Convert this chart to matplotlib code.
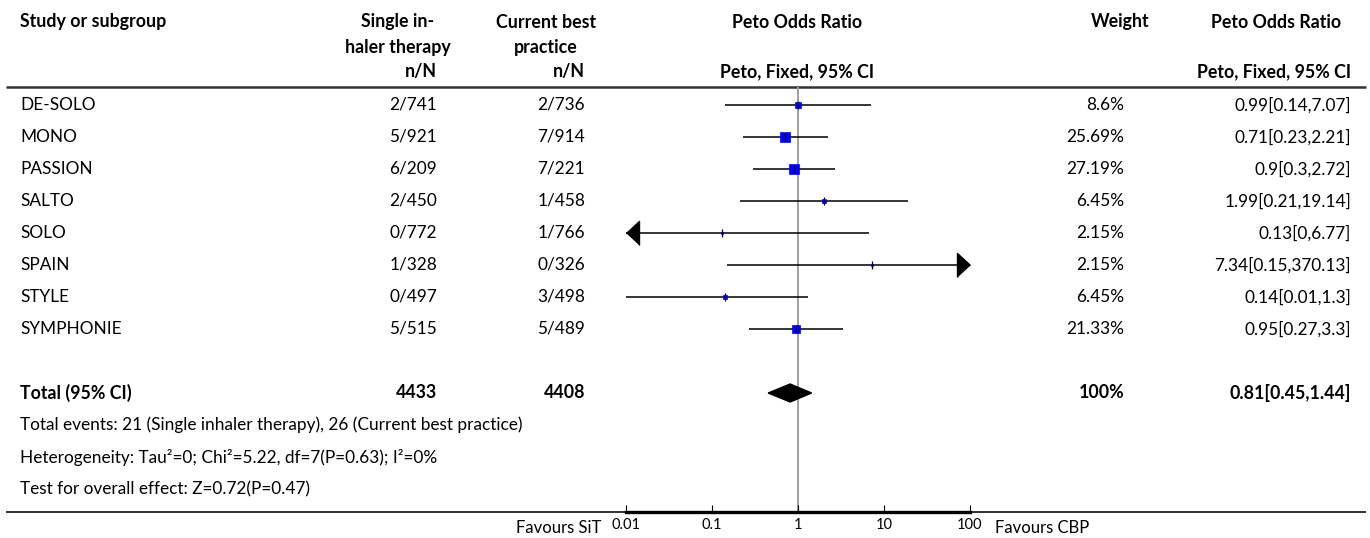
import numpy as np
import matplotlib.pyplot as plt
from matplotlib.patches import Polygon

plt.rcParams['font.family'] = ['Lato', 'DejaVu Sans']

# data
studies = ['DE-SOLO', 'MONO', 'PASSION', 'SALTO', 'SOLO', 'SPAIN', 'STYLE', 'SYMPHONIE']
sit_events = ['2/741', '5/921', '6/209', '2/450', '0/772', '1/328', '0/497', '5/515']
cbp_events = ['2/736', '7/914', '7/221', '1/458', '1/766', '0/326', '3/498', '5/489']
weights = [8.6, 25.69, 27.19, 6.45, 2.15, 2.15, 6.45, 21.33]
odds = [0.99, 0.71, 0.9, 1.99, 0.13, 7.34, 0.14, 0.95]
ci_low = [0.14, 0.23, 0.3, 0.21, 0, 0.15, 0.01, 0.27]
ci_high = [7.07, 2.21, 2.72, 19.14, 6.77, 370.13, 1.3, 3.3]
total_sit, total_cbp = 4433, 4408
total_or, total_low, total_high = 0.81, 0.45, 1.44
footnotes = [
    'Total events: 21 (Single inhaler therapy), 26 (Current best practice)',
    'Heterogeneity: Tau\u00b2=0; Chi\u00b2=5.22, df=7(P=0.63); I\u00b2=0%',
    'Test for overall effect: Z=0.72(P=0.47)',
]
ticks = [0.01, 0.1, 1, 10, 100]
tick_labels = ['0.01', '0.1', '1', '10', '100']

# layout (pixels)
W, H = 1370, 538
row0, dy = 105, 32
head_line, base_line = 87, 512
x_name, x_sit, x_cbp, x_w, x_ci = 20, 437, 585, 1124, 1351
fx0, fx1 = 626, 970

fig = plt.figure(figsize=(W / 100, H / 100), dpi=100)
bg = fig.add_axes([0, 0, 1, 1])
bg.set_xlim(0, W)
bg.set_ylim(H, 0)
bg.axis('off')

bold = dict(fontsize=12.8, fontweight='bold', va='center')
norm = dict(fontsize=12.4, va='center')

# header
bg.text(x_name, 22, 'Study or subgroup', ha='left', **bold)
bg.text(398, 22, 'Single in-', ha='center', **bold)
bg.text(398, 47, 'haler therapy', ha='center', **bold)
bg.text(x_sit, 72, 'n/N', ha='right', **bold)
bg.text(546, 22, 'Current best', ha='center', **bold)
bg.text(546, 47, 'practice', ha='center', **bold)
bg.text(x_cbp, 72, 'n/N', ha='right', **bold)
bg.text(797, 22, 'Peto Odds Ratio', ha='center', **bold)
bg.text(797, 72, 'Peto, Fixed, 95% CI', ha='center', **bold)
bg.text(1120, 22, 'Weight', ha='center', **bold)
bg.text(1276, 22, 'Peto Odds Ratio', ha='center', **bold)
bg.text(x_ci, 72, 'Peto, Fixed, 95% CI', ha='right', **bold)
bg.hlines(head_line, 6, 1366, color='#333333', lw=1.8)
bg.hlines(base_line, 6, 1366, color='#222222', lw=1.3)

# forest axes
ax = fig.add_axes([fx0 / W, (H - base_line) / H, (fx1 - fx0) / W, (base_line - head_line) / H])
ax.set_xscale('log')
ax.set_xlim(ticks[0], ticks[-1])
ax.set_ylim(base_line, head_line)
for s in ['top', 'left', 'right']:
    ax.spines[s].set_visible(False)
ax.spines['bottom'].set_linewidth(2.4)
ax.set_yticks([])
ax.set_xticks(ticks)
ax.set_xticklabels(tick_labels)
ax.minorticks_off()
ax.tick_params(axis='x', direction='in', length=5, width=0.8, labelsize=10.5, pad=4)
ax.patch.set_visible(False)
ax.axvline(1, color='#a0a0a0', lw=1.4, zorder=0)

for i, name in enumerate(studies):
    y = row0 + dy * i
    bg.text(x_name, y, name, ha='left', **norm)
    bg.text(x_sit, y, sit_events[i], ha='right', **norm)
    bg.text(x_cbp, y, cbp_events[i], ha='right', **norm)
    bg.text(x_w, y, f'{weights[i]:g}%', ha='right', **norm)
    bg.text(x_ci, y, f'{odds[i]:g}[{ci_low[i]:g},{ci_high[i]:g}]', ha='right', **norm)

    lo = max(ci_low[i], ticks[0])
    hi = min(ci_high[i], ticks[-1])
    ax.hlines(y, lo, hi, color='black', lw=1.1)
    side = 1.8 * np.sqrt(weights[i]) * 0.72
    ax.plot(odds[i], y, 's', ms=side, color='#0000ff', mec='#0000ff', mew=0.5)
    ax.plot(odds[i], y, '|', ms=6, color='black', mew=0.9)
    if ci_low[i] < ticks[0]:
        ax.plot(lo, y, marker=[(0, 0), (1.08, 1), (1.08, -1)], ms=18.7, color='black', clip_on=False)
    if ci_high[i] > ticks[-1]:
        ax.plot(hi, y, marker=[(0, 0), (-1.08, 1), (-1.08, -1)], ms=18.7, color='black', clip_on=False)

# total
yt = row0 + dy * (len(studies) + 1)
bg.text(x_name, yt, 'Total (95% CI)', ha='left', **bold)
bg.text(x_sit, yt, str(total_sit), ha='right', **bold)
bg.text(x_cbp, yt, str(total_cbp), ha='right', **bold)
bg.text(x_w, yt, '100%', ha='right', **bold)
bg.text(x_ci, yt, f'{total_or:g}[{total_low:g},{total_high:g}]', ha='right', **bold)
ax.add_patch(Polygon([(total_low, yt), (total_or, yt - 9), (total_high, yt), (total_or, yt + 9)],
                     closed=True, color='black'))

for k, note in enumerate(footnotes):
    bg.text(x_name, yt + dy * (k + 1), note, ha='left', **norm)

bg.text(601, 528, 'Favours SiT', ha='right', fontsize=12, va='center')
bg.text(995, 528, 'Favours CBP', ha='left', fontsize=12, va='center')

fig.savefig('out.png', dpi=100)
